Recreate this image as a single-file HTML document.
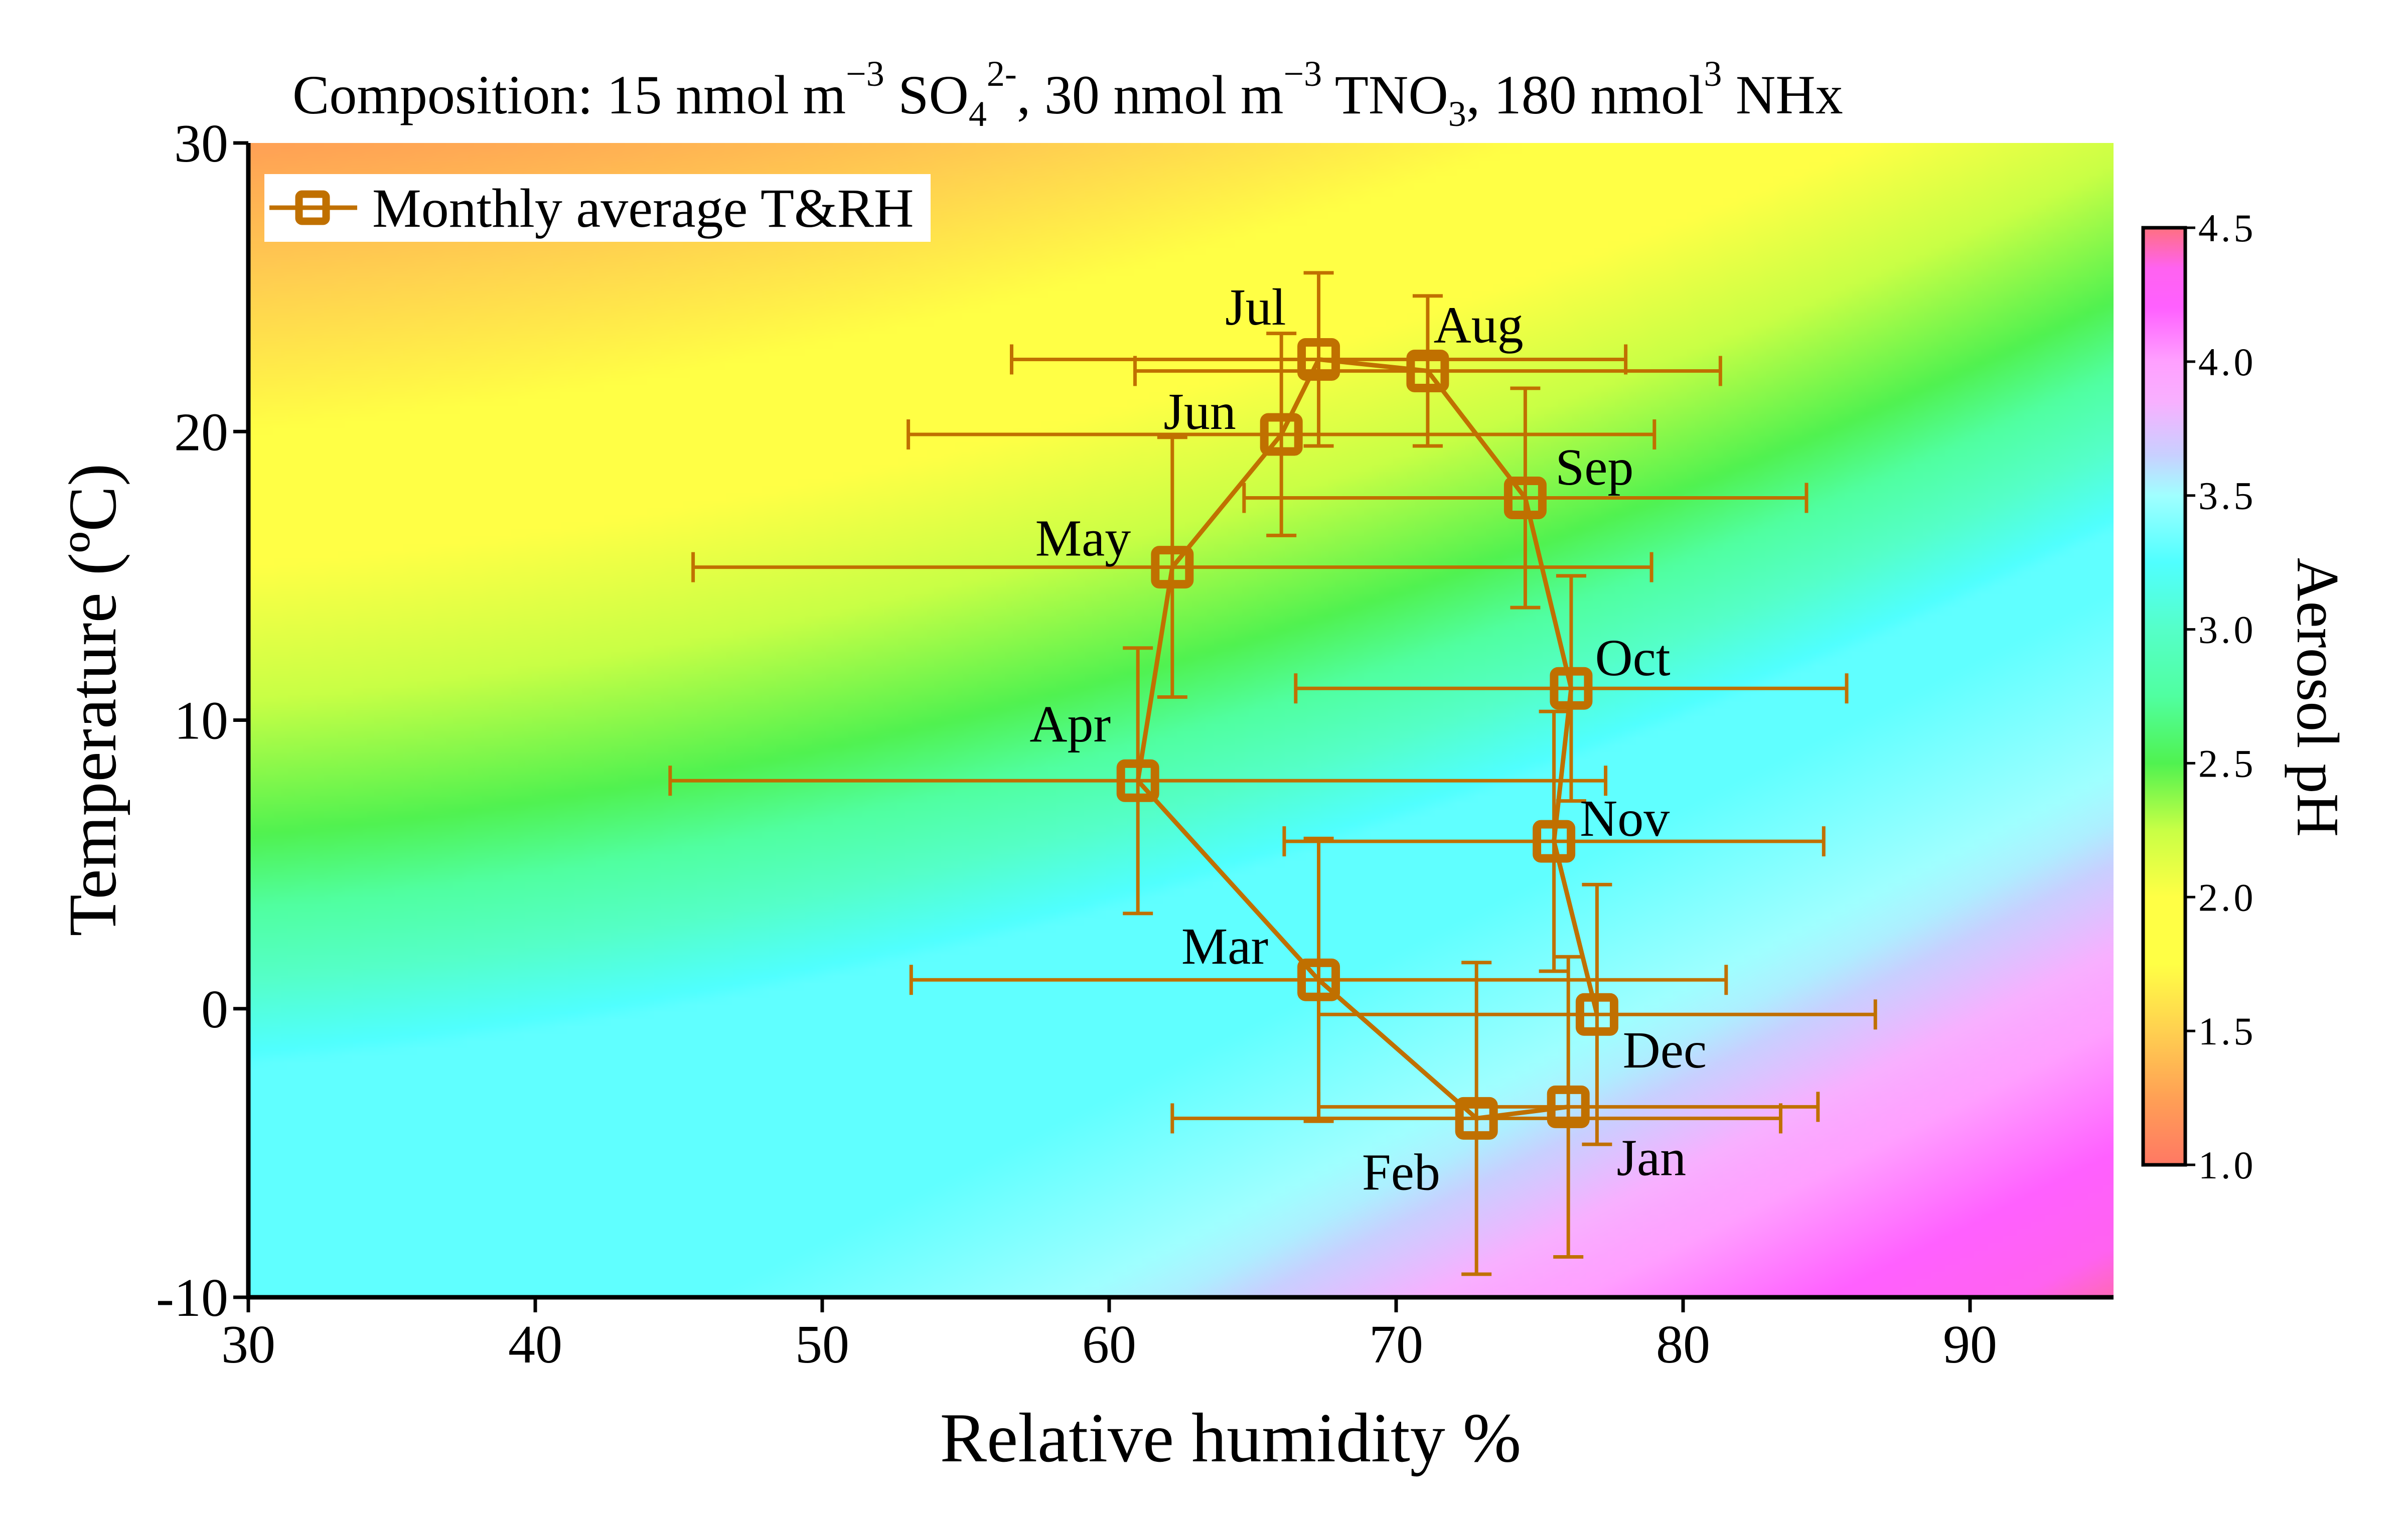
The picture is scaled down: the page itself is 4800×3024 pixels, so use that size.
<!DOCTYPE html>
<html><head><meta charset="utf-8"><style>
html,body{margin:0;padding:0;background:#fff;}
#wrap{position:relative;width:4800px;height:3024px;overflow:hidden;font-family:"Liberation Serif","Times New Roman",serif;}
#heat{position:absolute;left:495px;top:285px;width:3718px;height:2301px;}
#ov{position:absolute;left:0;top:0;}
</style></head><body>
<div id="wrap">
<canvas id="heat" width="260" height="160"></canvas>
<svg id="ov" width="4800" height="3024" xmlns="http://www.w3.org/2000/svg">
<defs><linearGradient id="cbg" x1="0" y1="1" x2="0" y2="0"></linearGradient></defs>
<g id="axes"></g>
<g id="series"></g>
</svg>
</div>
<script>
const months = ['Jan','Feb','Mar','Apr','May','Jun','Jul','Aug','Sep','Oct','Nov','Dec'];
const rh = [76.0,72.8,67.3,61.0,62.2,66.0,67.3,71.1,74.5,76.1,75.5,77.0];
const temp = [-3.4,-3.8,1.0,7.9,15.3,19.9,22.5,22.1,17.7,11.1,5.8,-0.2];
const rhErr = [8.7,10.6,14.2,16.3,16.7,13.0,10.7,10.2,9.8,9.6,9.4,9.7];
const tErr = [5.2,5.4,4.9,4.6,4.5,3.5,3.0,2.6,3.8,3.9,4.5,4.5];
const xTicks = [30,40,50,60,70,80,90];
const yTicks = [-10,0,10,20,30];
const cbTicks = ['1.0','1.5','2.0','2.5','3.0','3.5','4.0','4.5'];
const cmapVals = [1.0,1.25,1.5,1.75,2.0,2.25,2.5,2.75,3.0,3.25,3.5,3.65,3.85,4.0,4.2,4.35,4.5];
const cmapCols = ['#ff7864','#ffa055','#ffd050','#ffff45','#ffff45','#c8ff45','#50f250','#50ffa0','#55ffc8','#50ffff','#a0ffff','#c8d0ff','#f8b0ff','#ffa0ff','#ff60ff','#ff62f0','#ff7080'];
const labelOff = [[54,33],[-49,35],[-61,-22],[-44,-37],[-58,-19],[-53,-15],[-41,-34],[33,-30],[45,-20],[40,-20],[46,-15],[44,23]];

const S=3.067, L=495, R=4213, T=285, B=2586;
const xMin=30,xMax=95,yMin=-10,yMax=30,cMin=1,cMax=4.5;
const xs=v=>L+(v-xMin)/(xMax-xMin)*(R-L);
const ys=v=>B-(v-yMin)/(yMax-yMin)*(B-T);
const NS='http://www.w3.org/2000/svg';
function mk(tag,attrs,parent){const e=document.createElementNS(NS,tag);for(const k in attrs)e.setAttribute(k,attrs[k]);parent.appendChild(e);return e;}
function hex(c){return [parseInt(c.substr(1,2),16),parseInt(c.substr(3,2),16),parseInt(c.substr(5,2),16)];}
function cmap(v){v=Math.max(cMin,Math.min(cMax,v));for(let i=0;i<cmapVals.length-1;i++){if(v<=cmapVals[i+1]){const f=(v-cmapVals[i])/(cmapVals[i+1]-cmapVals[i]);const a=hex(cmapCols[i]),b=hex(cmapCols[i+1]);return a.map((x,j)=>Math.round(x+(b[j]-x)*f));}}return hex(cmapCols[cmapCols.length-1]);}
function lerp(x,x0,x1,y0,y1){const f=Math.max(0,Math.min(1,(x-x0)/(x1-x0)));return y0+(y1-y0)*f;}
function ph(r,t){const u=r-30;const c=6+0.09*u+0.003*u*u;const d=t-c;
 if(d>=0)return d<14?2.5-0.75*d/14:1.75-0.05*(d-14);
 const band=lerp(-d,0,8,2.5,3.3);
 const e=(r-62)*0.5-(t+10);
 let pk;
 if(e<-8)pk=3.3;else if(e<0)pk=lerp(e,-8,0,3.3,3.55);else if(e<6)pk=lerp(e,0,6,3.55,3.95);else pk=lerp(e,6,17,3.95,4.45);
 return band+(pk-3.3);}
// heatmap
const cv=document.getElementById('heat');const ctx=cv.getContext('2d');const img=ctx.createImageData(cv.width,cv.height);
for(let j=0;j<cv.height;j++)for(let i=0;i<cv.width;i++){const r=xMin+(i+0.5)/cv.width*(xMax-xMin);const t=yMax-(j+0.5)/cv.height*(yMax-yMin);const c=cmap(ph(r,t));const k=(j*cv.width+i)*4;img.data[k]=c[0];img.data[k+1]=c[1];img.data[k+2]=c[2];img.data[k+3]=255;}
ctx.putImageData(img,0,0);

const ax=document.getElementById('axes');
// title
const ttl=mk('text',{x:583,y:226,'font-size':110,fill:'#000'},ax);


const parts=[['Composition: 15 nmol m',0],['\u22123',1],[' SO',0],['4',-1],['2-',1],[', 30 nmol m',0],['\u22123',1],[' TNO',0],['3',-1],[', 180 nmol',0],['3',1],[' NHx',0]];
let cur=0;
parts.forEach(p=>{const ts=mk('tspan',{},ttl);ts.textContent=p[0];const want=p[1]===1?-55:p[1]===-1?25:0;if(p[1]!==0)ts.setAttribute('font-size',72);ts.setAttribute('dy',want-cur);cur=want;});

// axes lines
const xl=mk('line',{x1:L-4,y1:B,x2:R,y2:B,stroke:'#000','stroke-width':9},ax);

const yl=mk('line',{x1:L,y1:T,x2:L,y2:B+4,stroke:'#000','stroke-width':9},ax);

xTicks.forEach(v=>{const x=xs(v);const tk=mk('line',{x1:x,y1:B,x2:x,y2:B+30,stroke:'#000','stroke-width':7},ax);

const tl=mk('text',{x:x,y:B+130,'font-size':108,'text-anchor':'middle',fill:'#000'},ax);tl.textContent=v;
});
yTicks.forEach(v=>{const y=ys(v);const tk=mk('line',{x1:L-30,y1:y,x2:L,y2:y,stroke:'#000','stroke-width':7},ax);

const tl=mk('text',{x:L-40,y:y+37,'font-size':108,'text-anchor':'end',fill:'#000'},ax);tl.textContent=v;
});
const xt=mk('text',{x:2453,y:2913,'font-size':140,'text-anchor':'middle',fill:'#000'},ax);xt.textContent='Relative humidity %';

const yt=mk('text',{x:0,y:0,'font-size':136,'text-anchor':'middle',fill:'#000',transform:'translate(230,1395) rotate(-90)'},ax);yt.textContent='Temperature (\u00baC)';


// colorbar
const grad=document.getElementById('cbg');
cmapVals.forEach((v,i)=>{mk('stop',{offset:(v-cMin)/(cMax-cMin),'stop-color':cmapCols[i]},grad);});
const cbT=454,cbB=2322,cbL=4272,cbR=4356;
const cb=mk('rect',{x:cbL,y:cbT,width:cbR-cbL,height:cbB-cbT,fill:'url(#cbg)',stroke:'#000','stroke-width':7},ax);

cbTicks.forEach(s=>{const v=parseFloat(s);const y=cbB-(v-cMin)/(cMax-cMin)*(cbB-cbT);
const tk=mk('line',{x1:cbR,y1:y,x2:cbR+20,y2:y,stroke:'#000','stroke-width':5},ax);

const tl=mk('text',{x:cbR+26,y:y+27,'font-size':78,'letter-spacing':6,fill:'#000'},ax);tl.textContent=s;
});
const ct=mk('text',{x:0,y:0,'font-size':120,'text-anchor':'middle',fill:'#000',transform:'translate(4580,1390) rotate(90)'},ax);ct.textContent='Aerosol pH';


// legend
const lg=mk('g',{},ax);
mk('rect',{x:527,y:347,width:1328,height:135,fill:'#fff'},lg);
mk('line',{x1:537,y1:414,x2:712,y2:414,stroke:'#c07000','stroke-width':9},lg);
mk('rect',{x:596,y:387,width:54,height:54,fill:'none',stroke:'#c07000','stroke-width':15,rx:6},lg);
const lt=mk('text',{x:742,y:452,'font-size':110,fill:'#000'},lg);lt.textContent='Monthly average T&RH';


// series
const sg=document.getElementById('series');const col='#c07000';
months.forEach((m,i)=>{const x=xs(rh[i]),y=ys(temp[i]);
const g=mk('g',{},sg);
const x1=xs(rh[i]-rhErr[i]),x2=xs(rh[i]+rhErr[i]),y1=ys(temp[i]+tErr[i]),y2=ys(temp[i]-tErr[i]);
mk('line',{x1:x1,y1:y,x2:x2,y2:y,stroke:col,'stroke-width':7},g);
mk('line',{x1:x1,y1:y-30,x2:x1,y2:y+30,stroke:col,'stroke-width':7},g);
mk('line',{x1:x2,y1:y-30,x2:x2,y2:y+30,stroke:col,'stroke-width':7},g);
mk('line',{x1:x,y1:y1,x2:x,y2:y2,stroke:col,'stroke-width':7},g);
mk('line',{x1:x-30,y1:y1,x2:x+30,y2:y1,stroke:col,'stroke-width':7},g);
mk('line',{x1:x-30,y1:y2,x2:x+30,y2:y2,stroke:col,'stroke-width':7},g);});
const pts=months.map((m,i)=>xs(rh[i])+','+ys(temp[i])).join(' ');
const pl=mk('polyline',{points:pts,fill:'none',stroke:col,'stroke-width':9,'stroke-linejoin':'round'},sg);

months.forEach((m,i)=>{const x=xs(rh[i]),y=ys(temp[i]);
const r=mk('rect',{x:x-34,y:y-34,width:68,height:68,fill:'none',stroke:col,'stroke-width':17,rx:8},sg);

const t=mk('text',{x:x+labelOff[i][0]*S,y:y+labelOff[i][1]*S+35,'font-size':104,'text-anchor':'middle',fill:'#000'},sg);t.textContent=m;
});
</script>
</body></html>
